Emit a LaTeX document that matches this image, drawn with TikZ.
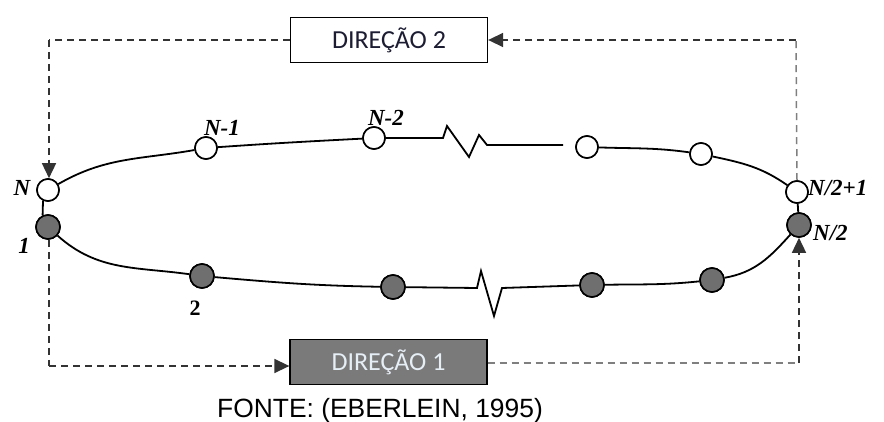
\documentclass[tikz,border=0pt]{standalone}
\usepackage{fontspec}
\setmainfont{Liberation Serif}
\newfontfamily\carfont{Carlito}
\newfontfamily\arialfont{Liberation Sans}
\usetikzlibrary{arrows.meta}
\definecolor{boxgray}{HTML}{7A7A7A}
\definecolor{dashdark}{HTML}{333333}
\definecolor{dashgray}{HTML}{7F7F7F}
\definecolor{nodegray}{HTML}{6F6F6F}
\definecolor{navytext}{HTML}{1C1C33}
\definecolor{lighttext}{HTML}{E6EEF6}
\begin{document}
\begin{tikzpicture}[x=1pt,y=1pt,
  wnode/.style={circle,draw=black,line width=1.6pt,fill=white,minimum size=22pt,inner sep=0pt},
  gnode/.style={circle,draw=black,line width=1.6pt,fill=nodegray,minimum size=24pt,inner sep=0pt},
  ring/.style={line width=1.8pt,black},
  dline/.style={line width=1.5pt,dash pattern=on 7pt off 5pt},
  tip/.style={-{Triangle[length=15pt,width=14pt]}},
  lbl/.style={font=\fontsize{23}{25}\selectfont\bfseries\itshape,inner sep=0pt},
  dirbox/.style={draw=black,line width=1.3pt,minimum width=197pt,minimum height=45pt,inner sep=0pt,font=\carfont\fontsize{26}{28}\selectfont}
]
\useasboundingbox (0,0) rectangle (884,421);

% direction boxes
\node[dirbox,fill=white,text=navytext] (d2) at (389,381) {DIREÇÃO 2};
\node[dirbox,fill=boxgray,text=lighttext] (d1) at (388.5,59) {DIREÇÃO 1};

% upper nodes
\node[wnode] (nN) at (48,231) {};
\node[wnode] (nN1) at (206,273) {};
\node[wnode] (nN2) at (374,283) {};
\node[wnode] (u3) at (587,274) {};
\node[wnode] (u4) at (701,267) {};
\node[wnode] (nH1) at (797,229) {};

% lower nodes
\node[gnode] (n1) at (48,194) {};
\node[gnode] (n2) at (202,145) {};
\node[gnode] (l3) at (393,134) {};
\node[gnode] (l4) at (592,136) {};
\node[gnode] (l5) at (712,141) {};
\node[gnode] (nH) at (799,196) {};

% zigzag coordinates
\coordinate (za) at (443,283);
\coordinate (zb) at (447,295);
\coordinate (zc) at (469,264);
\coordinate (zd) at (479,286);
\coordinate (ze) at (487,276);
\coordinate (zf) at (563,276);
\coordinate (ya) at (477,133);
\coordinate (yb) at (481,150);
\coordinate (yc) at (494,105);
\coordinate (yd) at (502,133);

% ring lines
\draw[ring] (nN) to[out=30,in=190] (nN1);
\draw[ring] (nN1) to[out=4,in=183] (nN2);
\draw[ring,line join=miter] (nN2) -- (za) -- (zb) -- (zc) -- (zd) -- (ze) -- (zf);
\draw[ring] (u3) to[out=-2,in=172] (u4);
\draw[ring] (u4) to[out=-12,in=145] (nH1);
\draw[ring] (nN.-115) -- (n1.115);
\draw[ring] (nH1) -- (nH);
\draw[ring] (n1) to[out=-42,in=172] (n2);
\draw[ring] (n2) to[out=-5,in=179] (l3);
\draw[ring,line join=miter] (l3) -- (ya) -- (yb) -- (yc) -- (yd) -- (l4);
\draw[ring] (l4) to[out=1,in=186] (l5);
\draw[ring] (l5) to[out=10,in=228] (nH);

% redraw nodes on top
\foreach \n in {nN,nN1,nN2,u3,u4,nH1}{\node[wnode] at (\n) {};}
\foreach \n in {n1,n2,l3,l4,l5,nH}{\node[gnode] at (\n) {};}

% dashed connectors
\coordinate (c1) at (49,381);
\coordinate (c2) at (796,381);
\coordinate (c3) at (49,55);
\coordinate (c4) at (799,58);
\draw[dline,dashdark] (d2.west) -- (c1);
\draw[dline,dashdark,tip] (c1) -- (nN.north -| c1);
\draw[dline,dashgray] (nH1.north) -- (c2);
\draw[dline,dashdark,tip] (c2) -- (d2.east);
\draw[dline,dashdark] (n1.south -| c3) -- (c3);
\draw[dline,dashdark,tip] (c3) -- (d1.west |- c3);
\draw[dline,dashgray] (d1.east |- c4) -- (c4);
\draw[dline,dashdark,tip] (c4) -- (nH.south -| c4);

% labels
\node[lbl] (tN) at (22,233) {N};
\node[lbl] (t1) at (24,175) {1};
\node[lbl] (tN1) at (222,293) {N-1};
\node[lbl] (tN2) at (386,303) {N-2};
\node[lbl,anchor=west] (tH1) at (808,233) {N/2+1};
\node[lbl,anchor=west] (tH) at (813,188) {N/2};
\node[font=\fontsize{22}{24}\selectfont\bfseries,inner sep=0pt] (t2) at (195,113) {2};

% caption
\node[font=\arialfont\fontsize{26.4}{30}\selectfont,anchor=base,inner sep=0pt] (cap) at (380,4) {FONTE: (EBERLEIN, 1995)};
\end{tikzpicture}
\end{document}
